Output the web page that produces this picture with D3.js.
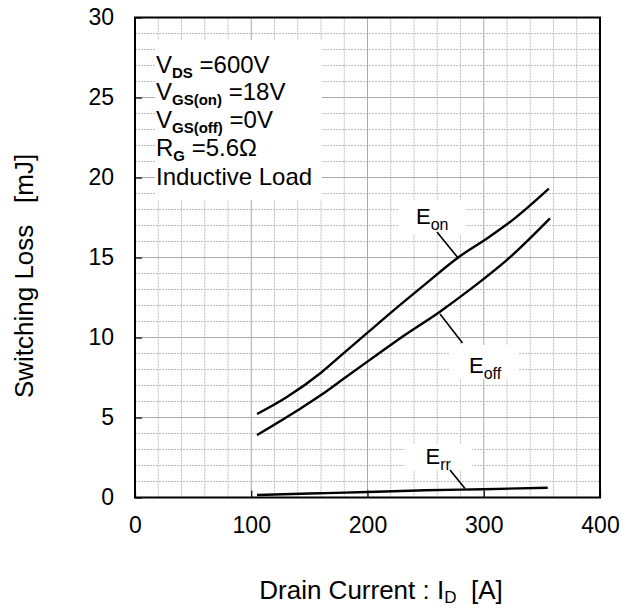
<!DOCTYPE html>
<html><head><meta charset="utf-8">
<script src="https://cdn.jsdelivr.net/npm/d3@7"></script>
<style>
html,body{margin:0;padding:0;background:#fff;}
svg{display:block;font-family:"Liberation Sans",Arial,sans-serif;}
</style></head>
<body><svg id="c" width="631" height="609"></svg>
<script>
// ---- data ----
const xTicks = [0, 100, 200, 300, 400];
const yTicks = [0, 5, 10, 15, 20, 25, 30];
const eonI  = [105, 130, 160, 180, 200, 225, 250, 278, 305, 325, 356];
const eonE  = [5.22, 6.25, 7.8, 9.05, 10.3, 11.85, 13.35, 15.0, 16.3, 17.35, 19.3];
const eoffI = [105, 140, 160, 180, 202, 230, 262, 290, 320, 357];
const eoffE = [3.9, 5.45, 6.4, 7.45, 8.6, 10.05, 11.6, 13.1, 14.85, 17.45];
const errI  = [105, 150, 200, 250, 300, 355];
const errE  = [0.16, 0.25, 0.34, 0.45, 0.52, 0.61];
const conditions = ["VDS", "VGS(on)", "VGS(off)", "RG", "Inductive Load"];

const svg = d3.select("#c");
const x = d3.scaleLinear().domain([0, 400]).range([135, 600]);
const y = d3.scaleLinear().domain([0, 30]).range([497.5, 17.5]);

// ---- grid ----
const g = svg.append("g");
const minorX = d3.range(0, 401, 20).filter(v => v % 100 !== 0);
const minorY = d3.range(0, 31, 1).filter(v => v % 5 !== 0);
g.selectAll(".mx").data(minorX).join("line")
  .attr("x1", d => x(d)).attr("x2", d => x(d)).attr("y1", y(0)).attr("y2", y(30))
  .attr("stroke", "#bdbdbd").attr("stroke-width", 1).attr("stroke-dasharray", "2,1");
g.selectAll(".my").data(minorY).join("line")
  .attr("y1", d => y(d)).attr("y2", d => y(d)).attr("x1", x(0)).attr("x2", x(400))
  .attr("stroke", "#bdbdbd").attr("stroke-width", 1).attr("stroke-dasharray", "2,1");
g.selectAll(".Mx").data(xTicks).join("line")
  .attr("x1", d => x(d)).attr("x2", d => x(d)).attr("y1", y(0)).attr("y2", y(30))
  .attr("stroke", "#aaaaaa").attr("stroke-width", 1);
g.selectAll(".My").data(yTicks).join("line")
  .attr("y1", d => y(d)).attr("y2", d => y(d)).attr("x1", x(0)).attr("x2", x(400))
  .attr("stroke", "#aaaaaa").attr("stroke-width", 1);

// ---- condition box ----
svg.append("rect").attr("x", 155).attr("y", 40).attr("width", 167).attr("height", 160).attr("fill", "#fff");
function condLine(yb, main, sub, rest) {
  const t = svg.append("text").attr("x", 156).attr("y", yb).attr("font-size", 24).attr("fill", "#000");
  t.append("tspan").text(main);
  if (sub) {
    t.append("tspan").attr("dy", 5).attr("font-size", 15).attr("font-weight", "bold").text(sub);
    t.append("tspan").attr("dy", -5).text(rest);
  } else {
    t.append("tspan").text(rest);
  }
}
condLine(73, "V", "DS", "\u00A0=600V");
condLine(100, "V", "GS(on)", "\u00A0=18V");
condLine(127.5, "V", "GS(off)", "\u00A0=0V");
condLine(156, "R", "G", "\u00A0=5.6\u03A9");
condLine(184.5, "", null, conditions[4]);

// ---- curves ----
const line = d3.line().x(d => x(d[0])).y(d => y(d[1])).curve(d3.curveMonotoneX);
const series = [d3.zip(eonI, eonE), d3.zip(eoffI, eoffE), d3.zip(errI, errE)];
svg.selectAll(".curve").data(series).join("path")
  .attr("d", line).attr("fill", "none").attr("stroke", "#000").attr("stroke-width", 2.4);

// ---- labels ----
const labels = [
  {main: "E", sub: "on",  bx: 398, by: 200, bw: 68, bh: 34, tx: 416, ty: 224, l: [437, 232, 458.5, 258.5]},
  {main: "E", sub: "off", bx: 450, by: 345, bw: 68, bh: 34, tx: 469, ty: 373, l: [440, 314, 462.5, 343]},
  {main: "E", sub: "rr",  bx: 404, by: 444, bw: 68, bh: 26, tx: 425.5, ty: 463.5, l: [450, 470, 465, 488.5]}
];
labels.forEach(L => {
  svg.append("rect").attr("x", L.bx).attr("y", L.by).attr("width", L.bw).attr("height", L.bh).attr("fill", "#fff");
  svg.append("line").attr("x1", L.l[0]).attr("y1", L.l[1]).attr("x2", L.l[2]).attr("y2", L.l[3])
    .attr("stroke", "#000").attr("stroke-width", 1.6);
  const t = svg.append("text").attr("x", L.tx).attr("y", L.ty).attr("font-size", 22).attr("fill", "#000");
  t.append("tspan").text(L.main);
  t.append("tspan").attr("dy", 6).attr("font-size", 16).text(L.sub);
});

// ---- axes ----
const ax = svg.append("g").attr("transform", `translate(0,${y(0)})`)
  .call(d3.axisBottom(x).tickValues(xTicks).tickSize(-7).tickPadding(19));
const ay = svg.append("g").attr("transform", `translate(${x(0)},0)`)
  .call(d3.axisLeft(y).tickValues(yTicks).tickSize(-7).tickPadding(21));
[ax, ay].forEach(a => {
  a.select(".domain").remove();
  a.selectAll(".tick line").attr("stroke", "#000").attr("stroke-width", 1.2);
  a.selectAll(".tick text").attr("font-size", 23).attr("fill", "#000")
    .attr("font-family", "'Liberation Sans',Arial,sans-serif");
});

// frame
svg.append("rect").attr("x", x(0)).attr("y", y(30)).attr("width", x(400) - x(0)).attr("height", y(0) - y(30))
  .attr("fill", "none").attr("stroke", "#000").attr("stroke-width", 2);

// ---- titles ----
const xt = svg.append("text").attr("x", 381).attr("y", 599).attr("text-anchor", "middle")
  .attr("font-size", 26).attr("fill", "#000");
xt.append("tspan").text("Drain Current : I");
xt.append("tspan").attr("dy", 4).attr("font-size", 17).text("D");
xt.append("tspan").attr("dy", -4).style("white-space", "pre").text("  [A]");

svg.append("text").attr("transform", "translate(33,276) rotate(-90)").attr("text-anchor", "middle")
  .attr("font-size", 26).attr("fill", "#000").style("white-space", "pre")
  .text("Switching Loss   [mJ]");
</script></body></html>
